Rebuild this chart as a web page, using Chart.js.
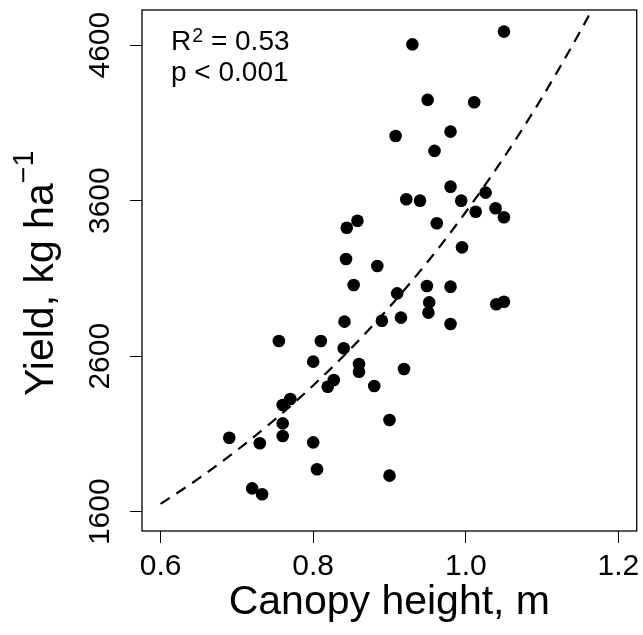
<!DOCTYPE html>
<html>
<head>
<meta charset="utf-8">
<script src="https://cdn.jsdelivr.net/npm/chart.js@4/dist/chart.umd.min.js"></script>
<style>
  html, body { margin: 0; padding: 0; background: #fff; }
  canvas { display: block; }
</style>
</head>
<body>
<canvas id="chart" width="643" height="635"></canvas>
<script>
// canopy height (m) and grain yield (kg/ha)
const heightM = [0.93, 1.05, 0.95, 1.011, 0.908, 0.98, 0.959, 0.98, 1.026, 0.922,
  0.94, 0.994, 1.013, 1.039, 1.05, 0.962, 0.858, 0.844, 0.995, 0.843,
  0.884, 0.853, 0.949, 0.98, 0.91, 0.952, 0.951, 1.04, 1.05, 0.915,
  0.89, 0.98, 0.841, 0.755, 0.81, 0.84, 0.8, 0.86, 0.86, 0.919,
  0.827, 0.819, 0.88, 0.77, 0.76, 0.76, 0.76, 0.69, 0.73, 0.8,
  0.9, 0.805, 0.9, 0.72, 0.733];
const yieldKg = [4605, 4687, 4248, 4233, 4016, 4044, 3920, 3690, 3652, 3609,
  3600, 3600, 3529, 3551, 3493, 3455, 3471, 3426, 3300, 3225,
  3180, 3058, 3051, 3047, 3004, 2946, 2880, 2934, 2950, 2848,
  2828, 2807, 2822, 2698, 2698, 2651, 2565, 2550, 2500, 2518,
  2447, 2404, 2408, 2325, 2286, 2168, 2087, 2076, 2040, 2046,
  2190, 1873, 1832, 1750, 1712];

// dashed fitted curve
const fitHeight = [0.6, 0.65, 0.7, 0.75, 0.8, 0.85, 0.9, 0.95, 1.0, 1.05, 1.1, 1.15, 1.17];
const fitYield = [1650, 1814, 1995, 2194, 2412, 2652, 2917, 3207, 3527, 3878, 4264, 4689, 4870];

const xTicks = [0.6, 0.8, 1.0, 1.2];
const xTickLabels = ["0.6", "0.8", "1.0", "1.2"];
const yTicks = [1600, 2600, 3600, 4600];
const yTickLabels = ["1600", "2600", "3600", "4600"];

const FONT = "'Liberation Sans', Arial, sans-serif";

const boxPlugin = {
  id: "box",
  afterDraw(chart) {
    const { ctx, chartArea: a } = chart;
    ctx.save();
    ctx.strokeStyle = "#000";
    ctx.lineWidth = 1.3;
    ctx.strokeRect(a.left, a.top, a.right - a.left, a.bottom - a.top);

    // R^2 and p annotation
    ctx.fillStyle = "#000";
    ctx.textBaseline = "alphabetic";
    ctx.textAlign = "left";
    ctx.font = "28px " + FONT;
    ctx.fillText("R", 171, 50);
    let w = ctx.measureText("R").width;
    ctx.font = "19.6px " + FONT;
    ctx.fillText("2", 171 + w + 1, 42);
    const w2 = ctx.measureText("2").width;
    ctx.font = "28px " + FONT;
    ctx.fillText(" = 0.53", 171 + w + 1 + w2, 50);
    ctx.fillText("p < 0.001", 171, 81);

    // y axis title with superscript
    ctx.translate(53, 396);
    ctx.rotate(-Math.PI / 2);
    ctx.font = "41px " + FONT;
    ctx.fillText("Yield, kg ha", 0, 0);
    w = ctx.measureText("Yield, kg ha").width;
    ctx.font = "28.7px " + FONT;
    ctx.fillText("\u22121", w, -20.5);
    ctx.restore();
  }
};

const printChart = () => {
  const ctx = document.getElementById("chart");

  const config = {
    type: "scatter",
    data: {
      datasets: [
        {
          data: heightM.map((x, i) => ({ x: x, y: yieldKg[i] })),
          backgroundColor: "#000",
          borderWidth: 0,
          pointRadius: 6.3,
          pointHoverRadius: 6.3,
        },
        {
          type: "line",
          data: fitHeight.map((x, i) => ({ x: x, y: fitYield[i] })),
          borderColor: "#000",
          borderWidth: 2.2,
          borderDash: [11, 8],
          pointRadius: 0,
          fill: false,
          tension: 0.4,
          cubicInterpolationMode: "monotone",
        },
      ],
    },
    options: {
      responsive: false,
      animation: false,
      layout: { padding: { top: 10, right: 5, left: 0, bottom: 0 } },
      plugins: {
        legend: { display: false },
        tooltip: { enabled: false },
      },
      scales: {
        x: {
          type: "linear",
          min: 0.5756,
          max: 1.224,
          afterBuildTicks: (s) => {
            s.ticks = xTicks.map((v) => ({ value: v }));
          },
          afterFit: (s) => {
            s.height = 104;
            s.paddingLeft = 0;
            s.paddingRight = 0;
          },
          ticks: {
            callback: (v, i) => xTickLabels[i],
            font: { size: 30, family: FONT },
            color: "#000",
            padding: 6,
            maxRotation: 0,
            autoSkip: false,
          },
          grid: { drawOnChartArea: false, drawTicks: true, tickLength: 12, color: "#000", lineWidth: 1 },
          border: { display: false },
          title: {
            display: true,
            text: "Canopy height, m",
            color: "#000",
            font: { size: 41, family: FONT },
            padding: { top: 0, bottom: 8 },
          },
        },
        y: {
          type: "linear",
          min: 1476,
          max: 4826,
          afterBuildTicks: (s) => {
            s.ticks = yTicks.map((v) => ({ value: v }));
          },
          afterFit: (s) => {
            s.width = 142;
            s.paddingTop = 0;
            s.paddingBottom = 0;
          },
          ticks: {
            callback: (v, i) => yTickLabels[i],
            font: { size: 30, family: FONT },
            color: "#000",
            padding: -4,
            minRotation: 90,
            maxRotation: 90,
            crossAlign: "center",
            autoSkip: false,
          },
          grid: { drawOnChartArea: false, drawTicks: true, tickLength: 12, color: "#000", lineWidth: 1 },
          border: { display: false },
          title: { display: false },
        },
      },
    },
    plugins: [boxPlugin],
  };

  new Chart(ctx, config);
};

printChart();
</script>
</body>
</html>
